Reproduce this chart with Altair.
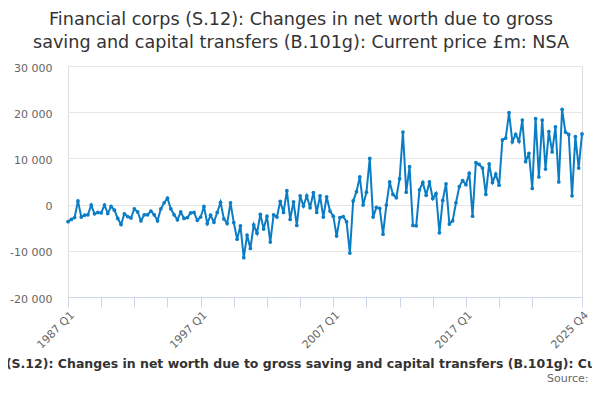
import altair as alt
import pandas as pd

start_year = 1987
values = [
    -3700, -3200, -2800, 800, -2700, -2300, -2200, -100, -2000, -1700,
    -1800, -100, -1900, -400, -1200, -3000, -4300, -2000, -2600, -2900,
    -900, -1600, -3500, -2200, -2200, -1400, -2200, -3500, -900, 400,
    1400, -900, -2200, -3300, -1600, -3000, -2800, -1800, -1700, -3400,
    -2700, -400, -4100, -2300, -3800, -1700, 500, -3100, -4100, 400,
    -3900, -7500, -4600, -11500, -6600, -9500, -4400, -6200, -2100, -5300,
    -2500, -8100, -2200, -2700, 700, -1700, 3000, -3200, 600, -4500,
    1900, -300, 1900, -700, 2600, -1700, 1900, -2700, 1700, -1400,
    -2500, -6800, -2800, -2600, -3700, -10500, 800, 2800, 6000, -100,
    2700, 10000, -2700, -600, -800, -6400, -100, 4900, 2200, 1500,
    5600, 15700, 2700, 8200, -4500, -4600, 3200, 4800, 2000, 4900,
    1300, 2400, -6100, 900, 4500, -4200, -3500, 400, 3900, 5200,
    4300, 6800, -2500, 9100, 8700, 7900, 2200, 8800, 4800, 6600,
    4200, 14000, 14400, 19900, 13600, 15200, 13700, 18300, 9300, 11100,
    3500, 18600, 6000, 18300, 7700, 15800, 11400, 16800, 4900, 20600,
    15700, 15200, 1900, 14700, 7900, 15300,
]
quarters = [f"{start_year + i // 4} Q{i % 4 + 1}" for i in range(len(values))]
tick_positions = [0, 10, 20, 30, 40, 50, 60, 70, 80, 90, 100, 110, 120, 130, 140, 155]
labelled_positions = [0, 40, 80, 120, 155]
y_ticks = [-20000, -10000, 0, 10000, 20000, 30000]

title_lines = ["Financial corps (S.12): Changes in net worth due to gross",
               "saving and capital transfers (B.101g): Current price £m: NSA"]
axis_title = ("Financial corps (S.12): Changes in net worth due to gross saving and "
              "capital transfers (B.101g): Current price £m: NSA")
source_text = "Source: Office for National Statistics"

df = pd.DataFrame({"idx": list(range(len(values))), "quarter": quarters, "value": values})

FONT = "DejaVu Sans"
BLUE = "#0b7dc5"

label_expr = ("indexof([" + ",".join(str(p) for p in labelled_positions) + "], datum.value) >= 0 ? "
              "(toString(" + str(start_year) + " + floor(datum.value / 4)) + ' Q' + toString(datum.value % 4 + 1)) : ''")

x = alt.X("idx:Q",
          scale=alt.Scale(domain=[0, len(values) - 1], nice=False, zero=False),
          axis=alt.Axis(values=tick_positions, labelExpr=label_expr, labelAngle=-45,
                        labelAlign="right", labelBaseline="top", labelFont=FONT, labelFontSize=11,
                        labelColor="#666666", labelPadding=2, labelOverlap=False,
                        tickColor="#ccd6eb", tickSize=10, domainColor="#ccd6eb", grid=False,
                        title=axis_title, titleFont=FONT, titleFontSize=12.5, titleFontWeight="bold",
                        titleColor="#333333", titleX=247, titleY=66, titleAlign="center",
                        titleBaseline="middle"))
y = alt.Y("value:Q",
          scale=alt.Scale(domain=[-20000, 30000], nice=False),
          axis=alt.Axis(values=y_ticks,
                        labelExpr="(datum.value < 0 ? '-' : '') + replace(format(abs(datum.value), ','), regexp(',', 'g'), ' ')",
                        labelFont=FONT, labelFontSize=11, labelColor="#666666", labelPadding=16,
                        labelOffset=2, ticks=False, domain=False, gridColor="#e6e6e6",
                        gridWidth=1, title=None))

line = alt.Chart(df).mark_line(
    color=BLUE, strokeWidth=2,
    point=alt.OverlayMarkDef(filled=True, color=BLUE, size=14, opacity=1),
).encode(x=x, y=y, tooltip=["quarter:N", "value:Q"])

source = alt.Chart(pd.DataFrame({"t": [source_text]})).mark_text(
    align="left", baseline="bottom", font=FONT, fontSize=11, color="#666666"
).encode(text="t:N", x=alt.value(479), y=alt.value(318))

chart = alt.layer(line, source).properties(
    width=514, height=231,
    title=alt.TitleParams(text=title_lines, font=FONT, fontSize=17.6, fontWeight="normal",
                          color="#333333", anchor="middle", dx=-24, offset=10, lineHeight=23),
    autosize=alt.AutoSizeParams(type="none"),
    padding={"left": 60, "top": 58, "right": 10, "bottom": 87},
).configure_view(strokeWidth=0).configure(background="white")

chart.save("out.html", embed_options={"renderer": "svg", "actions": False})
